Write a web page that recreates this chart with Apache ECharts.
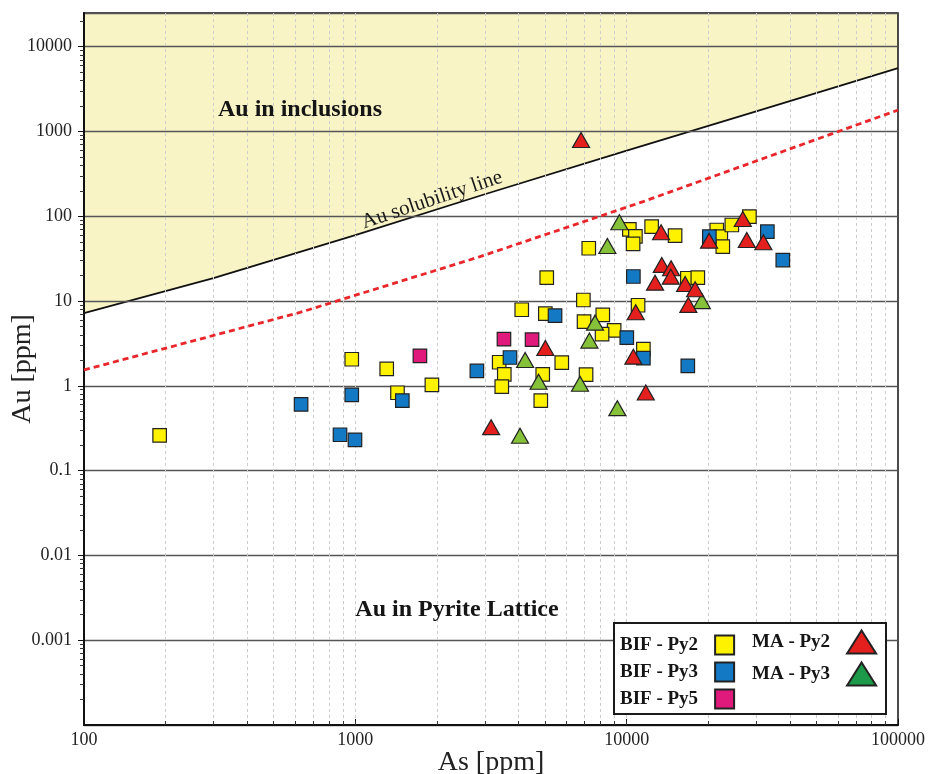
<!DOCTYPE html>
<html>
<head>
<meta charset="utf-8">
<title>Au vs As in pyrite</title>
<script src="https://cdn.jsdelivr.net/npm/echarts@6/dist/echarts.min.js"></script>
<style>
  html, body { margin: 0; padding: 0; background: #ffffff; }
  #chart { width: 929px; height: 774px; }
</style>
</head>
<body>
<div id="chart"></div>
<script>
const SERIF = '"Liberation Serif", "Times New Roman", Times, serif';

// Au solubility limit and the dashed reference curve, [As ppm, Au ppm]
const solubilityLine = [[100, 7.2], [300, 18.7], [1000, 60], [3000, 182], [10000, 596], [30000, 1733], [100000, 5600]];
const dashedLine = [[100, 1.54], [625, 7.35], [2880, 33.4], [11500, 149], [100000, 1790]];

// Pyrite analyses, [As ppm, Au ppm]
const bifPy2 = [
  [190, 0.26], [970, 2.06], [1305, 1.59], [1430, 0.83], [1915, 1.03], [3390, 1.90],
  [3540, 1.37], [3465, 0.98], [4825, 0.67], [4905, 1.37], [5765, 1.88], [4105, 7.9],
  [5015, 7.1], [5075, 18.9], [6925, 10.3], [7250, 42], [6965, 5.73], [8165, 6.87],
  [8990, 4.51], [8115, 4.07], [10230, 70.3], [10770, 58.1], [10560, 47.4], [12360, 75.4],
  [15080, 59.1], [21480, 68.9], [22230, 57.5], [22610, 43.8], [24410, 79.0], [28340, 98.9],
  [16740, 18.6], [18290, 18.9], [11015, 8.93], [11525, 2.71], [7085, 1.36]
];
const bifPy3 = [
  [631, 0.605], [878, 0.265], [997, 0.231], [970, 0.783], [1490, 0.671], [2805, 1.50],
  [3715, 2.16], [5445, 6.74], [10585, 19.5], [10010, 3.71], [11525, 2.12], [16800, 1.72],
  [20170, 57.5], [33000, 65.8], [37620, 30.5]
];
const bifPy5 = [[1730, 2.26], [3530, 3.55], [4480, 3.51]];
const maPy2 = [
  [6790, 793], [5015, 2.80], [3165, 0.326], [13390, 64.8], [20125, 51.6], [26790, 92.9],
  [27715, 52.6], [31905, 49.4], [13470, 26.7], [14580, 24.4], [14540, 19.4], [12725, 16.5],
  [16420, 15.9], [17875, 13.8], [16880, 9.01], [10800, 7.39], [10585, 2.21], [11760, 0.834]
];
const maPy3 = [
  [9400, 85.2], [8490, 44.7], [7645, 5.57], [7290, 3.42], [4225, 2.02], [4735, 1.12],
  [6730, 1.06], [18920, 10.0], [9240, 0.546], [4045, 0.258]
];

// Axis ranges and the decade steps used for minor ticks / grid
const xRange = [100, 100000];
const yRange = [0.0001, 25000];
const xDecades = [100, 1000, 10000];
const yDecades = [0.0001, 0.001, 0.01, 0.1, 1, 10, 100, 1000, 10000];
const steps = [2, 3, 4, 5, 6, 7, 8, 9];

const xGridValues = [];
xDecades.forEach(function (d, i) {
  if (i > 0) xGridValues.push(d);
  steps.forEach(function (m) { xGridValues.push(+(m * d).toPrecision(3)); });
});
const yMinorValues = [];
yDecades.forEach(function (d) {
  steps.forEach(function (m) {
    const v = +(m * d).toPrecision(3);
    if (v <= yRange[1]) yMinorValues.push(v);
  });
});

function fmtTick(v) {
  return v >= 1 ? String(Math.round(v)) : String(Number(v.toPrecision(1)));
}

const borderStyle = { borderColor: '#222', borderWidth: 1.2, opacity: 1 };
const squareSize = 13.5;
const triangleSize = [17, 15];

const chart = echarts.init(document.getElementById('chart'), null, { renderer: 'canvas' });

chart.setOption({
  animation: false,
  backgroundColor: '#ffffff',
  textStyle: { fontFamily: SERIF },
  grid: {
    left: 84, right: 31, top: 13, bottom: 49,
    outerBoundsMode: 'none', containLabel: false,
    show: true, borderColor: '#111', borderWidth: 1.5, backgroundColor: 'transparent'
  },
  xAxis: [
    {
      type: 'log', logBase: 10, min: xRange[0], max: xRange[1], position: 'bottom',
      name: 'As [ppm]', nameLocation: 'middle', nameGap: 24, nameMoveOverlap: false,
      nameTextStyle: { fontFamily: SERIF, fontSize: 28, color: '#222' },
      axisLine: { show: true, lineStyle: { color: '#111', width: 2 } },
      axisTick: { show: true, inside: true, length: 6, lineStyle: { color: '#111', width: 1 } },
      axisLabel: { fontFamily: SERIF, fontSize: 18, color: '#222', margin: 6, formatter: fmtTick },
      splitLine: { show: false }
    },
    {
      type: 'log', logBase: 10, min: xRange[0], max: xRange[1], position: 'bottom',
      axisLine: { show: false },
      axisLabel: { show: false },
      axisTick: { show: true, inside: true, length: 4, customValues: xGridValues, lineStyle: { color: '#333', width: 1 } },
      splitLine: { show: true, lineStyle: { color: '#cdcdcd', width: 1, type: [3, 3] } }
    }
  ],
  yAxis: [
    {
      type: 'log', logBase: 10, min: yRange[0], max: yRange[1], position: 'left',
      name: 'Au [ppm]', nameLocation: 'middle', nameGap: 47, nameRotate: 90, nameMoveOverlap: false,
      nameTextStyle: { fontFamily: SERIF, fontSize: 28, color: '#222' },
      axisLine: { show: true, lineStyle: { color: '#111', width: 2 } },
      axisTick: { show: true, inside: false, length: 6, lineStyle: { color: '#111', width: 1 } },
      axisLabel: {
        fontFamily: SERIF, fontSize: 18, color: '#222', margin: 12,
        showMinLabel: false, showMaxLabel: false, formatter: fmtTick
      },
      splitLine: { show: true, lineStyle: { color: '#555', width: 1.3 } }
    },
    {
      type: 'log', logBase: 10, min: yRange[0], max: yRange[1], position: 'left',
      axisLine: { show: false },
      axisLabel: { show: false },
      axisTick: { show: true, inside: false, length: 4, customValues: yMinorValues, lineStyle: { color: '#333', width: 1 } },
      splitLine: { show: false }
    }
  ],
  legend: [
    {
      data: ['BIF - Py2', 'BIF - Py3', 'BIF - Py5'],
      orient: 'vertical', left: 620, top: 634.5, align: 'right',
      itemWidth: 19, itemHeight: 19, itemGap: 6, padding: 0, z: 20,
      selectedMode: false,
      textStyle: { fontFamily: SERIF, fontWeight: 'bold', fontSize: 19, color: '#151515', padding: [0, 12, 0, 0] }
    },
    {
      data: ['MA - Py2', { name: 'MA - Py3', itemStyle: { color: '#1c9a49' } }],
      orient: 'vertical', left: 752, top: 629.5, align: 'right',
      itemWidth: 29, itemHeight: 23, itemGap: 7, padding: 0, z: 20,
      selectedMode: false,
      textStyle: { fontFamily: SERIF, fontWeight: 'bold', fontSize: 19, color: '#151515', padding: [0, 12, 0, 0] }
    }
  ],
  graphic: [
    {
      type: 'rect', left: 613, top: 622, z: 10,
      shape: { width: 272, height: 91 },
      style: { fill: '#ffffff', stroke: '#1a1a1a', lineWidth: 2 }
    },
    {
      type: 'text', x: 300, y: 110, z: 5,
      style: { text: 'Au in inclusions', fill: '#151515', font: 'bold 24px ' + SERIF, align: 'center', verticalAlign: 'middle' }
    },
    {
      type: 'text', x: 457, y: 610, z: 5,
      style: { text: 'Au in Pyrite Lattice', fill: '#151515', font: 'bold 24px ' + SERIF, align: 'center', verticalAlign: 'middle' }
    }
  ],
  series: [
    {
      name: 'Au solubility line', type: 'line', data: solubilityLine,
      symbol: 'none', z: -1, silent: true,
      lineStyle: { color: '#111', width: 1.8 },
      areaStyle: { color: '#f9f4c6', origin: 'end', opacity: 1 },
      markPoint: {
        symbol: 'circle', symbolSize: 0, silent: true,
        data: [{ coord: [1917, 155.6] }],
        label: {
          show: true, formatter: 'Au solubility line', position: 'inside', rotate: 18.4,
          fontFamily: SERIF, fontSize: 21, color: '#1a1a1a'
        }
      }
    },
    {
      name: 'reference', type: 'line', data: dashedLine, symbol: 'none', silent: true, z: 1,
      lineStyle: { color: '#e8262b', width: 2.8, type: [6, 4] }
    },
    {
      name: 'BIF - Py2', type: 'scatter', data: bifPy2, symbol: 'rect', symbolSize: squareSize, z: 3,
      itemStyle: Object.assign({ color: '#fff200' }, borderStyle)
    },
    {
      name: 'BIF - Py3', type: 'scatter', data: bifPy3, symbol: 'rect', symbolSize: squareSize, z: 3,
      itemStyle: Object.assign({ color: '#1479c4' }, borderStyle)
    },
    {
      name: 'BIF - Py5', type: 'scatter', data: bifPy5, symbol: 'rect', symbolSize: squareSize, z: 3,
      itemStyle: Object.assign({ color: '#e0197d' }, borderStyle)
    },
    {
      name: 'MA - Py3', type: 'scatter', data: maPy3, symbol: 'triangle', symbolSize: triangleSize, z: 4,
      itemStyle: Object.assign({ color: '#86c13a' }, borderStyle)
    },
    {
      name: 'MA - Py2', type: 'scatter', data: maPy2, symbol: 'triangle', symbolSize: triangleSize, z: 4,
      itemStyle: Object.assign({ color: '#e4201f' }, borderStyle)
    }
  ]
});
</script>
</body>
</html>
